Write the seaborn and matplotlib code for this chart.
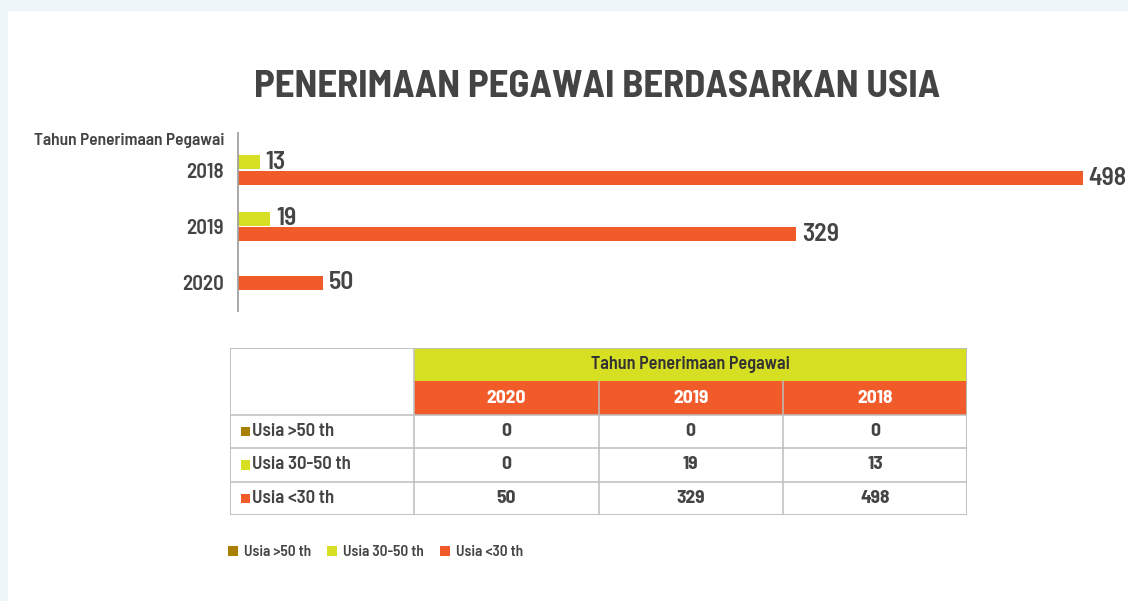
import matplotlib
matplotlib.use("Agg")
import matplotlib.pyplot as plt
import numpy as np
import pandas as pd
import seaborn as sns
from matplotlib.patches import Patch, Rectangle

# data
years = ["2018", "2019", "2020"]
table_years = ["2020", "2019", "2018"]
groups = ["Usia >50 th", "Usia 30-50 th", "Usia <30 th"]
usia_50_plus = [0, 0, 0]        # 2018, 2019, 2020
usia_30_50 = [13, 19, 0]
usia_under_30 = [498, 329, 50]
colors = ["#A87F00", "#D7DF23", "#F15A29"]

title = "PENERIMAAN PEGAWAI BERDASARKAN USIA"
axis_title = "Tahun Penerimaan Pegawai"

TEXT = "#444444"
W, H = 1128, 601


def fx(x):
    return x / W


def fy(y):
    return 1 - y / H


sns.set_theme(style="white")
plt.rcParams["font.family"] = ["Barlow Semi Condensed", "DejaVu Sans"]

df = pd.DataFrame(
    {"tahun": years, groups[0]: usia_50_plus, groups[1]: usia_30_50, groups[2]: usia_under_30}
)
long_df = df.melt(id_vars="tahun", var_name="usia", value_name="jumlah")

fig = plt.figure(figsize=(W / 100, H / 100), dpi=100, facecolor="#EDF6F8")
fig.patches.append(
    Rectangle((fx(8), 0), 1 - fx(8), fy(11), transform=fig.transFigure,
              facecolor="white", edgecolor="none", zorder=-5)
)

# ---- bar chart ----
ax = fig.add_axes([fx(238), fy(311), fx(1083) - fx(238), (311 - 133) / H])
ax.set_facecolor("none")
bar_h = 0.25
step = 0.28
for i, year in enumerate(years):
    sub = long_df[(long_df["tahun"] == year) & (long_df["jumlah"] > 0)]
    n = len(sub)
    for k, row in enumerate(sub.itertuples()):
        pos = i + (k - (n - 1) / 2) * step
        color = colors[groups.index(row.usia)]
        bars = ax.barh(pos, row.jumlah, height=bar_h, color=color, linewidth=0)
        ax.bar_label(bars, fmt="%d", padding=4, fontsize=18.5, fontweight="semibold",
                     color=TEXT)

ax.set_xlim(0, max(usia_under_30))
ax.set_ylim(2.5, -0.66)
ax.set_yticks(range(len(years)))
ax.set_yticklabels(years, fontsize=15, fontweight="semibold", color=TEXT)
ax.set_xticks([])
ax.tick_params(axis="y", length=0, pad=10)
for side in ["top", "right", "bottom"]:
    ax.spines[side].set_visible(False)
ax.spines["left"].set_color("#A0A0A0")
ax.spines["left"].set_linewidth(1.3)

fig.text(fx(224), fy(140), axis_title, ha="right", va="center", fontsize=12.5,
         fontweight="semibold", color=TEXT)
fig.text(fx(597), fy(87), title, ha="center", va="center", fontsize=28,
         fontweight="bold", color=TEXT)

# ---- table ----
tax = fig.add_axes([fx(230), fy(515), fx(967) - fx(230), (515 - 348) / H])
tax.set_xlim(0, 4)
tax.set_ylim(5, 0)
tax.axis("off")
line_kw = dict(color="#BDBDBD", linewidth=1.1)
tax.add_patch(Rectangle((1, 0), 3, 1, facecolor=colors[1], edgecolor="none"))
tax.add_patch(Rectangle((1, 1), 3, 1, facecolor=colors[2], edgecolor="none"))
for y in [2, 3, 4]:
    tax.plot([0, 4], [y, y], **line_kw)
for x in [2, 3]:
    tax.plot([x, x], [1, 5], **line_kw)
tax.plot([1, 1], [0, 5], **line_kw)
tax.add_patch(Rectangle((0, 0), 4, 5, facecolor="none", edgecolor="#BDBDBD",
                        linewidth=1.3))

tax.text(2.5, 0.5, axis_title, ha="center", va="center", fontsize=13,
         fontweight="semibold", color="#333333")
for j, yr in enumerate(table_years):
    tax.text(1.5 + j, 1.5, yr, ha="center", va="center", fontsize=14,
             fontweight="bold", color="white")

table_rows = [usia_50_plus, usia_30_50, usia_under_30]
for r, (name, vals) in enumerate(zip(groups, table_rows)):
    yc = 2.5 + r
    tax.add_patch(Rectangle((0.06, yc - 0.14), 0.05, 0.28, facecolor=colors[r],
                            edgecolor="none"))
    tax.text(0.12, yc, name, ha="left", va="center", fontsize=13.5,
             fontweight="semibold", color=TEXT)
    for j, yr in enumerate(table_years):
        v = vals[years.index(yr)]
        tax.text(1.5 + j, yc, f"{v}", ha="center", va="center", fontsize=14,
                 fontweight="bold", color=TEXT)

# ---- legend ----
handles = [Patch(facecolor=c, edgecolor="none", label=g) for c, g in zip(colors, groups)]
leg = fig.legend(handles=handles, loc="center left", bbox_to_anchor=(fx(222), fy(552)),
                 ncol=3, frameon=False, fontsize=11, handlelength=0.65,
                 handleheight=0.65, handletextpad=0.4, columnspacing=1.05,
                 borderaxespad=0)
for t in leg.get_texts():
    t.set_color(TEXT)
    t.set_fontweight("semibold")

fig.savefig("out.png", dpi=100, facecolor=fig.get_facecolor())
